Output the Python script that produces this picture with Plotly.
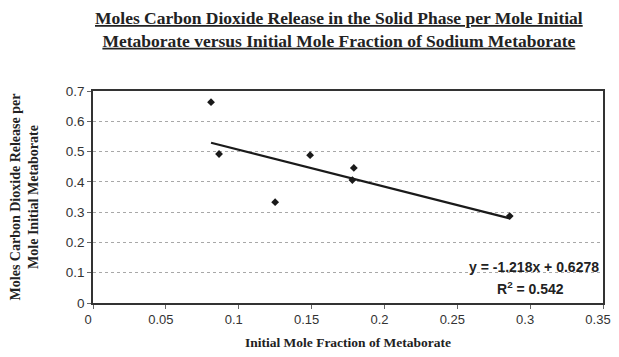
import plotly.graph_objects as go

# Data
mole_fraction = [0.081, 0.0865, 0.125, 0.149, 0.179, 0.178, 0.286]
co2_release = [0.663, 0.492, 0.333, 0.488, 0.446, 0.406, 0.287]

# Trendline coefficients as printed on the chart
slope = -1.218
intercept = 0.6278
r_squared = 0.542

x_ticks = [0, 0.05, 0.1, 0.15, 0.2, 0.25, 0.3, 0.35]
y_ticks = [0, 0.1, 0.2, 0.3, 0.4, 0.5, 0.6, 0.7]

title_text = ("<u><b>Moles Carbon Dioxide Release in the Solid Phase per Mole Initial</b></u><br>"
              "<u><b>Metaborate versus Initial Mole Fraction of Sodium Metaborate</b></u>")

trend_x = [min(mole_fraction), max(mole_fraction)]
trend_y = [slope * v + intercept for v in trend_x]

SERIF = "Liberation Serif, Times New Roman"
SANS = "Liberation Sans, Arial"

fig = go.Figure()
fig.add_trace(go.Scatter(
    x=trend_x, y=trend_y, mode="lines",
    line=dict(color="#1a1a1a", width=2.2), showlegend=False, hoverinfo="skip"))
fig.add_trace(go.Scatter(
    x=mole_fraction, y=co2_release, mode="markers",
    marker=dict(symbol="diamond", size=6, color="#1a1a1a"), showlegend=False))

fig.add_annotation(
    text=title_text, xref="paper", yref="paper", x=0.482, y=1.29,
    xanchor="center", yanchor="middle", showarrow=False,
    font=dict(family=SERIF, size=17.5, color="#222"))
fig.add_annotation(
    text=f"<b>y = {slope}x + {intercept}</b>", xref="paper", yref="paper",
    x=0.997, y=0.17, xanchor="right", yanchor="middle", showarrow=False,
    font=dict(family=SANS, size=14, color="#222"))
fig.add_annotation(
    text=f"<b>R<sup>2</sup> = {r_squared}</b>", xref="paper", yref="paper",
    x=0.857, y=0.071, xanchor="center", yanchor="middle", showarrow=False,
    font=dict(family=SANS, size=14, color="#222"))

# The page body has an 8px default margin, so the figure is sized to fit the window
fig.update_layout(
    width=611, height=349,
    margin=dict(l=85, r=16, t=83, b=54),
    paper_bgcolor="white", plot_bgcolor="white",
    xaxis=dict(range=[0, 0.35], tickvals=x_ticks, ticktext=[f"{v:g}" for v in x_ticks],
               automargin=False,
               showgrid=False, zeroline=False, showline=True, linecolor="#333", linewidth=1.5,
               mirror=True, ticks="outside", ticklen=4, tickcolor="#666",
               ticklabelshift=-5,
               tickfont=dict(family=SANS, size=13, color="#333"),
               title=dict(text="<b>Initial Mole Fraction of Metaborate</b>", standoff=11,
                          font=dict(family=SERIF, size=13.5, color="#222"))),
    yaxis=dict(range=[0, 0.7], tickvals=y_ticks, ticktext=[f"{v:g}" for v in y_ticks],
               automargin=False,
               showgrid=True, gridcolor="#a8a8a8", gridwidth=1, griddash="dot",
               zeroline=False, showline=True, linecolor="#333", linewidth=1.5,
               mirror=True, ticks="outside", ticklen=4, tickcolor="#666",
               tickfont=dict(family=SANS, size=13.5, color="#333"),
               title=dict(text="<b>Moles Carbon Dioxide Release per<br>Mole Initial Metaborate</b>", standoff=25,
                          font=dict(family=SERIF, size=14, color="#222"))),
)

fig.write_html("out.html")
